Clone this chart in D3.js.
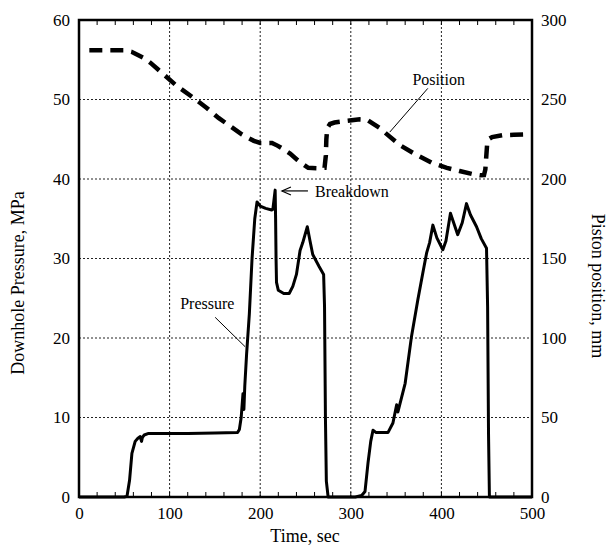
<!DOCTYPE html>
<html><head><meta charset="utf-8">
<script src="https://cdn.jsdelivr.net/npm/d3@7/dist/d3.min.js"></script>
<style>body{margin:0;background:#fff}svg{display:block}svg text{font-family:"Liberation Serif","Times New Roman",serif !important;fill:#000}</style>
</head><body><svg id="c" width="611" height="554"></svg>
<script>
// ---- data ----
const xTicks = [0, 100, 200, 300, 400, 500];
const yLeftTicks = [0, 10, 20, 30, 40, 50, 60];
const yRightTicks = [0, 50, 100, 150, 200, 250, 300];
const pressureTime = [0,20,40,50,53,55.8,58.4,62,65,67.6,69,70,72,76.8,90,120,150,175,177,179,181,182,183,185,188,191,194,196.5,200,206,212.7,214,216.5,217,217.5,218,220,226,232,236,240,244,247,252,255,258,265,270,271,272,273,275,290,305,312,315.7,319,322,324.5,328,341,346.5,350.6,352,356,360,367,374,380,383.7,387,390.6,395,401.6,405,410,418,423,427.7,432,438.8,444,449.8,451,452,453,460,480,500];
const pressureVal  = [0,0,0,0,0.1,2.1,5.5,7.0,7.4,7.6,7.0,7.5,7.8,8.0,8.0,8.0,8.05,8.1,8.5,10,13,11,14,18,23,30,35,37.1,36.6,36.3,36.1,36.2,38.6,35,30,27,26,25.6,25.6,26.5,28,31,32,34,32.2,30.5,29,28,24,10,2,0,0,0,0.2,0.7,4.3,7,8.4,8.1,8.1,9.3,11.6,10.7,12.5,14.3,20.2,24.8,28.5,30.7,32,34.2,32.6,31.1,32.2,35.7,33,34.5,36.9,35.5,34,32.5,31.3,24,8,0,0,0,0];
const positionTime = [11.4,30,50,58,65,72,79,87,95,108,125,141,154,170,180,187,193,200,213,219,225,233,241,248,253,264,271,272.5,273,274,277,282,295,310,318,324,332,341,355,373,390,406,420,435,443,447,448.5,449.5,450.5,452,456,468,480,494];
const positionVal  = [281,281,281,280,278,276,273,269,265,258.5,251.6,244.7,238.4,232,228,225.8,224,222.7,222.7,221,219,216,212,209,207,206.8,207,215,225,232,234.6,235.5,236.5,237.5,237.3,235,232,227.6,221,215,210,207,205,203,202.3,202.5,206,214,222,225,226.4,227.6,227.8,228];
// ---- layout ----
const FONT = '"Liberation Serif", "Times New Roman", serif';
const svg = d3.select('#c');
const x = d3.scaleLinear().domain([0, 500]).range([79, 532]);
const yL = d3.scaleLinear().domain([0, 60]).range([497, 20]);
const yR = d3.scaleLinear().domain([0, 300]).range([497, 20]);

// grid
const g = svg.append('g');
g.selectAll('line.vg').data(xTicks.slice(1, -1)).enter().append('line')
  .attr('x1', d => x(d)).attr('x2', d => x(d)).attr('y1', yL(0)).attr('y2', yL(60))
  .attr('stroke', '#222').attr('stroke-width', 1).attr('stroke-dasharray', '2,2');
g.selectAll('line.hg').data(yLeftTicks.slice(1, -1)).enter().append('line')
  .attr('y1', d => yL(d)).attr('y2', d => yL(d)).attr('x1', x(0)).attr('x2', x(500))
  .attr('stroke', '#222').attr('stroke-width', 1).attr('stroke-dasharray', '2,2');

// minor ticks top/bottom
const minor = d3.range(20, 500, 20);
g.selectAll('line.mb').data(minor).enter().append('line')
  .attr('x1', d => x(d)).attr('x2', d => x(d)).attr('y1', yL(0)).attr('y2', yL(0) - 5)
  .attr('stroke', '#000').attr('stroke-width', 1);
g.selectAll('line.mt').data(minor).enter().append('line')
  .attr('x1', d => x(d)).attr('x2', d => x(d)).attr('y1', yL(60)).attr('y2', yL(60) + 5)
  .attr('stroke', '#000').attr('stroke-width', 1);

// axes labels via d3 axes
const axB = svg.append('g').attr('transform', `translate(0,${yL(0)})`)
  .call(d3.axisBottom(x).tickValues(xTicks).tickSize(0).tickPadding(10));
const axL = svg.append('g').attr('transform', `translate(${x(0)},0)`)
  .call(d3.axisLeft(yL).tickValues(yLeftTicks).tickSize(0).tickPadding(9));
const axR = svg.append('g').attr('transform', `translate(${x(500)},0)`)
  .call(d3.axisRight(yR).tickValues(yRightTicks).tickSize(0).tickPadding(9));
[axB, axL, axR].forEach(a => {
  a.select('.domain').remove();
  a.attr('font-family', null).attr('font-size', null);
  a.selectAll('text').style('font-family', FONT).style('font-size', '17px').attr('fill', '#000');
});

// lines
const lineP = d3.line().x(d => x(d[0])).y(d => yL(d[1]));
const lineS = d3.line().x(d => x(d[0])).y(d => yR(d[1]));
svg.append('path').datum(pressureTime.map((t, i) => [t, pressureVal[i]]))
  .attr('d', lineP).attr('fill', 'none').attr('stroke', '#000').attr('stroke-width', 3).attr('stroke-linejoin', 'round');
svg.append('path').datum(positionTime.map((t, i) => [t, positionVal[i]]))
  .attr('d', lineS).attr('fill', 'none').attr('stroke', '#000').attr('stroke-width', 4.5)
  .attr('stroke-dasharray', '13,8');

// frame
svg.append('rect').attr('x', x(0)).attr('y', yL(60)).attr('width', x(500) - x(0)).attr('height', yL(0) - yL(60))
  .attr('fill', 'none').attr('stroke', '#000').attr('stroke-width', 2.5);

// annotations
function label(tx, ty, s, size, anchor) {
  return svg.append('text').attr('x', tx).attr('y', ty).attr('text-anchor', anchor || 'start')
    .style('font-family', FONT).style('font-size', size + 'px').text(s);
}
label(x(397), yL(51.8), 'Position', 16, 'middle');
svg.append('line').attr('x1', x(385)).attr('y1', yL(51.4)).attr('x2', x(343)).attr('y2', yL(45.9)).attr('stroke', '#000').attr('stroke-width', 1);
label(x(260.5), yL(37.7), 'Breakdown', 16);
svg.append('line').attr('x1', x(252.7)).attr('y1', yL(38.5)).attr('x2', x(224)).attr('y2', yL(38.5)).attr('stroke', '#000').attr('stroke-width', 1.2);
svg.append('path').attr('d', `M${x(224) + 9},${yL(38.5) - 4}L${x(224)},${yL(38.5)}L${x(224) + 9},${yL(38.5) + 4}`)
  .attr('fill', 'none').attr('stroke', '#000').attr('stroke-width', 1.2);
label(x(111.7), yL(23.6), 'Pressure', 16);
svg.append('line').attr('x1', x(150.3)).attr('y1', yL(22.6)).attr('x2', x(183.4)).attr('y2', yL(18.9)).attr('stroke', '#000').attr('stroke-width', 1);

// axis titles
label(305, 542, 'Time, sec', 18, 'middle');
svg.append('text').attr('transform', 'translate(24,283) rotate(-90)').attr('text-anchor', 'middle')
  .style('font-family', FONT).style('font-size', '18px').text('Downhole Pressure, MPa');
svg.append('text').attr('transform', 'translate(592,286) rotate(90)').attr('text-anchor', 'middle')
  .style('font-family', FONT).style('font-size', '18px').text('Piston position, mm');
</script></body></html>
